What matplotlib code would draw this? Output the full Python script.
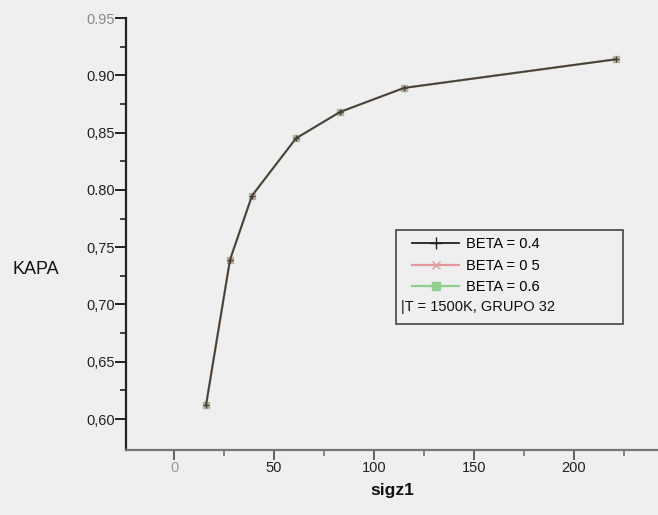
import matplotlib
matplotlib.use("Agg")
import matplotlib.pyplot as plt
from matplotlib.patches import Rectangle
from matplotlib.lines import Line2D

plt.rcParams["font.family"] = ["Liberation Sans", "DejaVu Sans"]

# sigz1 values and KAPA for each BETA (curves coincide)
sigz1 = [16, 28, 39, 61, 83, 115, 221]
kapa_beta_04 = [0.612, 0.739, 0.795, 0.845, 0.868, 0.889, 0.914]
kapa_beta_05 = [0.612, 0.739, 0.795, 0.845, 0.868, 0.889, 0.914]
kapa_beta_06 = [0.612, 0.739, 0.795, 0.845, 0.868, 0.889, 0.914]

series_labels = ["BETA = 0.4", "BETA = 0 5", "BETA = 0.6"]
note_text = "T = 1500K, GRUPO 32"

y_ticks = [0.60, 0.65, 0.70, 0.75, 0.80, 0.85, 0.90, 0.95]
y_tick_labels = ["0,60", "0,65", "0,70", "0,75", "0.80", "0,85", "0.90", "0.95"]
x_ticks = [0, 50, 100, 150, 200]
x_tick_labels = ["0", "50", "100", "150", "200"]

bg = "#efefef"
fig = plt.figure(figsize=(6.58, 5.15), dpi=100, facecolor=bg)
ax = fig.add_axes([0.1915, 0.1262, 0.8085, 0.8388])
ax.set_facecolor(bg)

ax.set_xlim(-24, 242)
ax.set_ylim(0.573, 0.95)

for s in ("top", "right"):
    ax.spines[s].set_visible(False)
ax.spines["left"].set_color("#222222")
ax.spines["left"].set_linewidth(1.6)
ax.spines["bottom"].set_color("#777777")
ax.spines["bottom"].set_linewidth(1.6)

ax.plot(sigz1, kapa_beta_06, color="#8fcf8f", lw=1.6, marker="s", ms=4,
        mfc="#8fcf8f", mec="#8fcf8f", zorder=3)
ax.plot(sigz1, kapa_beta_05, color="#e39a9a", lw=1.6, marker="x", ms=5,
        mec="#e39a9a", zorder=4)
ax.plot(sigz1, kapa_beta_04, color="#3e423c", lw=1.3, marker="+", ms=5,
        mec="#3e423c", zorder=5)

ax.set_yticks(y_ticks)
ax.set_yticklabels(y_tick_labels)
ax.set_yticks([0.625, 0.675, 0.725, 0.775, 0.825, 0.875, 0.925], minor=True)
ax.set_xticks(x_ticks)
ax.set_xticklabels(x_tick_labels)
ax.set_xticks([25, 75, 125, 175, 225], minor=True)

ax.tick_params(axis="y", which="major", direction="out", length=8, width=1.4,
               pad=0, labelsize=10.5, colors="#222222", labelcolor="#222222")
ax.tick_params(axis="y", which="minor", direction="out", length=4, width=1.2,
               colors="#222222")
ax.tick_params(axis="x", which="major", direction="out", length=7, width=1.3,
               pad=1, labelsize=10.5, colors="#555555", labelcolor="#222222")
ax.tick_params(axis="x", which="minor", direction="out", length=4, width=1.2,
               colors="#777777")
ax.get_xticklabels()[0].set_color("#999999")
ax.get_yticklabels()[-1].set_color("#888888")

fig.text(13 / 658, 1 - 270 / 515, "KAPA", fontsize=13, ha="left",
         va="center", color="#111111")
ax.set_xlabel("sigz1", fontsize=12.5, fontweight="bold", labelpad=6,
              color="#111111")

handles = [
    Line2D([], [], color="#222222", lw=1.3, marker="+", ms=9, mec="#222222"),
    Line2D([], [], color="#e39a9a", lw=1.6, marker="x", ms=6, mec="#e39a9a"),
    Line2D([], [], color="#8fcf8f", lw=1.6, marker="s", ms=6, mfc="#8fcf8f",
           mec="#8fcf8f"),
]
leg = fig.legend(handles, series_labels, loc="upper left",
                 bbox_to_anchor=(405 / 658, 1 - 230 / 515), frameon=False,
                 fontsize=10.5, handlelength=3.2, handletextpad=0.5,
                 labelspacing=0.52, borderpad=0.0)
fig.text(401 / 658, 1 - 307 / 515, "|" + note_text, fontsize=10.5,
         ha="left", va="center", color="#111111")
fig.patches.append(Rectangle((396 / 658, 1 - 324 / 515), 227 / 658, 94 / 515,
                             transform=fig.transFigure, fill=False,
                             edgecolor="#444444", lw=1.2))

fig.savefig("out.png", dpi=100, facecolor=bg)
